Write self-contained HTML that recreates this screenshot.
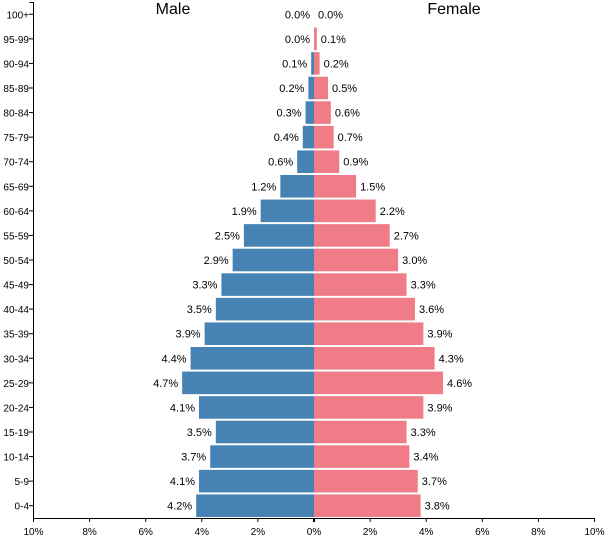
<!DOCTYPE html>
<html><head><meta charset="utf-8"><style>
body{margin:0;background:#fff;}
svg{display:block;font-family:"Liberation Sans",Arial,sans-serif;}
</style></head><body>
<svg id="chart" width="614" height="552"></svg>
<script>
const ageGroups=["100+","95-99","90-94","85-89","80-84","75-79","70-74","65-69","60-64","55-59","50-54","45-49","40-44","35-39","30-34","25-29","20-24","15-19","10-14","5-9","0-4"];
const maleValues=[0.0,0.0,0.1,0.2,0.3,0.4,0.6,1.2,1.9,2.5,2.9,3.3,3.5,3.9,4.4,4.7,4.1,3.5,3.7,4.1,4.2];
const femaleValues=[0.0,0.1,0.2,0.5,0.6,0.7,0.9,1.5,2.2,2.7,3.0,3.3,3.6,3.9,4.3,4.6,3.9,3.3,3.4,3.7,3.8];
const tickValues=[10,8,6,4,2,0,2,4,6,8,10];
const svg=document.getElementById('chart');
const NS='http://www.w3.org/2000/svg';
const cx=314, pxPer=28.05, plotTop=2, plotBottom=518;
const band=(plotBottom-plotTop)/ageGroups.length;
function xMale(v){return cx-v*pxPer;}
function xFemale(v){return cx+v*pxPer;}
function yBand(i){return plotTop+i*band;}
function mk(tag,attrs,txt){const e=document.createElementNS(NS,tag);for(const k in attrs)e.setAttribute(k,attrs[k]);if(txt!==undefined)e.textContent=txt;svg.appendChild(e);return e;}
ageGroups.forEach((g,i)=>{
  const y=yBand(i)+1, h=band-2, mid=yBand(i)+band/2+4;
  const mv=maleValues[i], fv=femaleValues[i];
  let r=mk('rect',{x:xMale(mv),y:y,width:cx-xMale(mv),height:h,fill:'#4682b4'});
  
  
  r=mk('rect',{x:cx,y:y,width:xFemale(fv)-cx,height:h,fill:'#f07c87'});
  
  
  let t=mk('text',{x:xMale(mv)-4,y:mid,'text-anchor':'end','font-size':'11',fill:'#000'},mv.toFixed(1)+'%');
  
  
  t=mk('text',{x:xFemale(fv)+4,y:mid,'text-anchor':'start','font-size':'11',fill:'#000'},fv.toFixed(1)+'%');
  
  
  t=mk('text',{x:29,y:mid,'text-anchor':'end','font-size':'10',fill:'#000'},g);
  
  
  let l=mk('line',{x1:29,x2:33.5,y1:yBand(i)+band/2,y2:yBand(i)+band/2,stroke:'#000'});
  
  
});
let ax=mk('path',{d:'M29.5,2.5H33.5V518',stroke:'#000',fill:'none'});


ax=mk('path',{d:'M33.5,522V518.5H594.5V522',stroke:'#000',fill:'none'});


tickValues.forEach((v,i)=>{
  const x=i<5?xMale(v):(i===5?cx:xFemale(v));
  let l=mk('line',{x1:x,x2:x,y1:518,y2:522,stroke:'#000','stroke-width':i===5?2:1});
  
  
  let t=mk('text',{x:x,y:535,'text-anchor':'middle','font-size':'10',fill:'#000'},v+'%');
  
  
});
let tt=mk('text',{x:173,y:14,'text-anchor':'middle','font-size':'16',fill:'#000'},'Male');


tt=mk('text',{x:454,y:14,'text-anchor':'middle','font-size':'16',fill:'#000'},'Female');


</script>
</body></html>
